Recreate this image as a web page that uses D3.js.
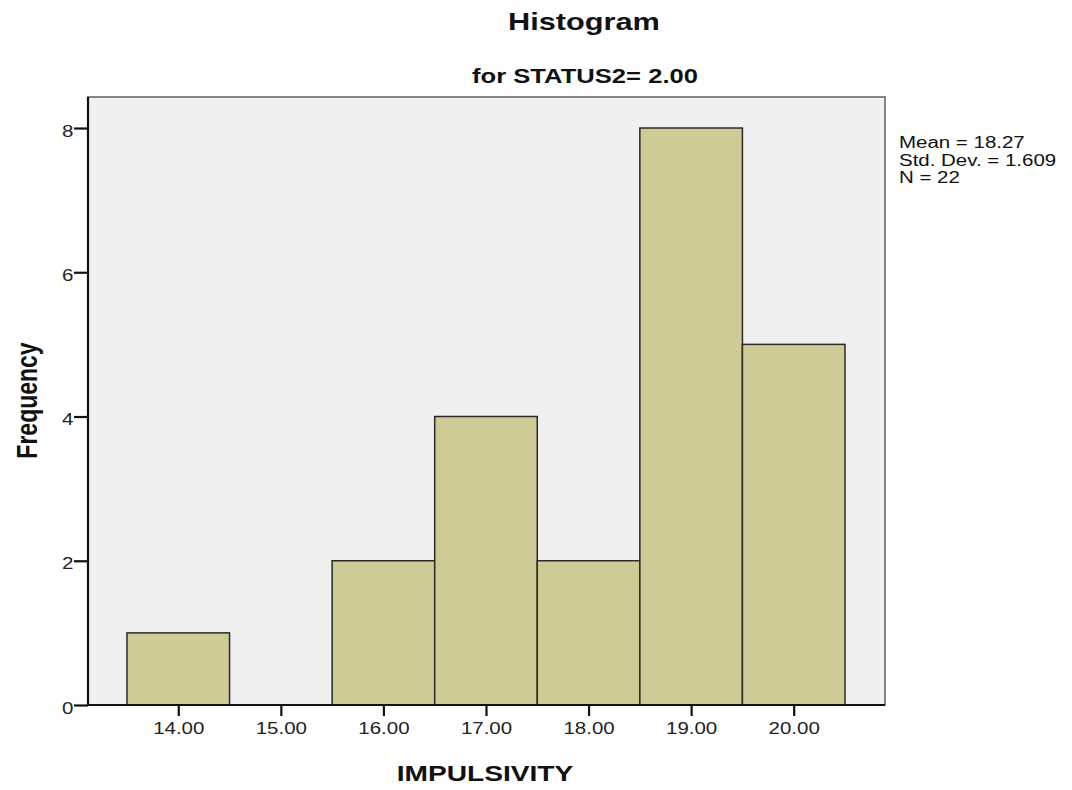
<!DOCTYPE html>
<html>
<head>
<meta charset="utf-8">
<script src="https://cdn.jsdelivr.net/npm/d3@7"></script>
<style>
  html, body { margin: 0; padding: 0; background: #fff; }
  svg { display: block; font-family: "Liberation Sans", Arial, Helvetica, sans-serif; }
</style>
</head>
<body>
<svg id="chart" width="1072" height="790"></svg>
<script>
// Histogram bins of IMPULSIVITY (bin centers, width 1) and their counts
const binCenters = [14, 15, 16, 17, 18, 19, 20];
const binCounts  = [1, 0, 2, 4, 2, 8, 5];
const xTickValues = [14, 15, 16, 17, 18, 19, 20];
const yTickValues = [0, 2, 4, 6, 8];
const statsLines = ["Mean = 18.27", "Std. Dev. = 1.609", "N = 22"];

const svg = d3.select("#chart");
const plot = { left: 88, top: 97, right: 885, bottom: 705 };
const SX = 1.28; // horizontal stretch applied to all lettering

const x = d3.scaleLinear().domain([13.12, 20.89]).range([plot.left, plot.right]);
const y = d3.scaleLinear().domain([0, 8.43]).range([plot.bottom, plot.top]);

// plot background and frame
svg.append("rect")
  .attr("x", plot.left).attr("y", plot.top)
  .attr("width", plot.right - plot.left).attr("height", plot.bottom - plot.top)
  .attr("fill", "#eff0ef").attr("stroke", "#6a6a6a").attr("stroke-width", 1.6);

// bars
svg.append("g").selectAll("rect")
  .data(binCenters.map((c, i) => ({ c, n: binCounts[i] })).filter(d => d.n > 0))
  .join("rect")
  .attr("x", d => x(d.c - 0.5))
  .attr("y", d => y(d.n))
  .attr("width", d => x(d.c + 0.5) - x(d.c - 0.5))
  .attr("height", d => y(0) - y(d.n))
  .attr("fill", "#cecb96")
  .attr("stroke", "#2a2a2a")
  .attr("stroke-width", 1.5);

// axes
const xAxis = d3.axisBottom(x).tickValues(xTickValues).tickFormat(d3.format(".2f"))
  .tickSize(11).tickSizeOuter(0);
const yAxis = d3.axisLeft(y).tickValues(yTickValues).tickFormat(d3.format("d"))
  .tickSize(14).tickSizeOuter(0);

const gx = svg.append("g").attr("transform", `translate(0,${plot.bottom})`).call(xAxis);
const gy = svg.append("g").attr("transform", `translate(${plot.left},0)`).call(yAxis);

[gx, gy].forEach(g => {
  g.attr("font-size", null).attr("font-family", null);
  g.select(".domain").attr("stroke", "#111").attr("stroke-width", 2.2);
  g.selectAll(".tick line").attr("stroke", "#111").attr("stroke-width", 2.2);
  g.selectAll(".tick text").attr("fill", "#222").attr("font-size", 16);
});
gx.select(".domain").attr("d", `M${plot.left},0H${plot.right}`);
gy.select(".domain").attr("d", `M0,${plot.top}V${plot.bottom}`);
gx.selectAll(".tick text").attr("y", 29).attr("dy", null)
  .attr("transform", `scale(${SX},1)`);
gy.selectAll(".tick text").attr("x", -14.5 / SX).attr("dy", 8).attr("y", 0)
  .attr("transform", `scale(${SX},1)`);

// helper for stretched lettering
function label(x0, y0, txt, size, opts = {}) {
  return svg.append("text")
    .attr("transform", `translate(${x0},${y0}) scale(${SX},1)` + (opts.rotate ? ` rotate(${opts.rotate})` : ""))
    .attr("text-anchor", opts.anchor || "middle")
    .attr("font-weight", opts.bold ? "bold" : "normal")
    .attr("font-size", size)
    .attr("fill", "#111")
    .text(txt);
}

// titles
label(584, 30, "Histogram", 24, { bold: true });
label(585, 82.5, "for STATUS2= 2.00", 20, { bold: true });

// axis titles
label(485, 781, "IMPULSIVITY", 22, { bold: true });
label(37, 400.5, "Frequency", 23, { bold: true, rotate: -90 });

// summary statistics
statsLines.forEach((s, i) => label(899, 148 + i * 17.5, s, 16, { anchor: "start" }));
</script>
</body>
</html>
